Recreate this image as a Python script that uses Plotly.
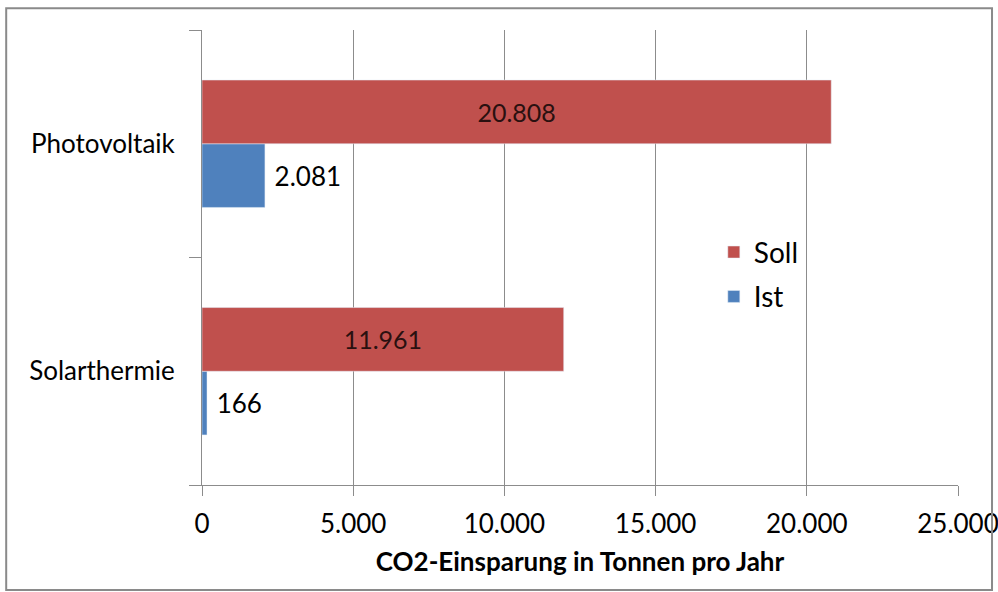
import plotly.graph_objects as go

# Data
categories = ["Solarthermie", "Photovoltaik"]
soll = [11961, 20808]
ist = [166, 2081]
x_ticks = [0, 5000, 10000, 15000, 20000, 25000]

red = "#C0504D"
blue = "#4F81BD"
grey = "#8C8C8C"
font_family = "Lato, 'Open Sans', sans-serif"

fig = go.Figure()

# Ist first so that it sits below Soll inside each group
fig.add_trace(go.Bar(
    y=categories, x=ist, name="Ist", orientation="h",
    legendgroup="ist", legendrank=2,
    marker=dict(color=blue),
    texttemplate="\u00a0%{x:,}", textposition="outside",
    textfont=dict(size=26, color="#000000"),
    cliponaxis=False,
))
fig.add_trace(go.Bar(
    y=categories, x=soll, name="Soll", orientation="h",
    legendgroup="soll", legendrank=1,
    marker=dict(color=red),
    texttemplate="%{x:,}", textposition="inside", insidetextanchor="middle",
    textfont=dict(size=25, color="#2a1010"),
))

fig.update_layout(
    width=998, height=592,
    paper_bgcolor="white", plot_bgcolor="white",
    font=dict(family=font_family, size=26, color="#000000"),
    separators=",.",
    barmode="group", bargap=0.44, bargroupgap=0,
    margin=dict(l=202, r=40, t=30, b=107, autoexpand=False),
    legend=dict(
        traceorder="grouped",
        x=0.677, y=0.463, xanchor="left", yanchor="middle",
        font=dict(size=28), bgcolor="rgba(0,0,0,0)",
        itemwidth=30, tracegroupgap=5,
    ),
    xaxis=dict(
        range=[0, 25000], tickvals=x_ticks, tickformat=",d",
        showgrid=True, gridcolor=grey, gridwidth=1,
        showline=True, linecolor=grey, linewidth=1,
        ticks="outside", ticklen=10, tickcolor=grey,
        zeroline=False, automargin=False, ticklabeloverflow="allow",
        ticklabelstandoff=6,
        title=dict(text="<b>CO2-Einsparung in Tonnen pro Jahr</b>",
                   font=dict(size=26), standoff=14),
        tickfont=dict(size=26),
    ),
    yaxis=dict(
        showgrid=False, showline=True, linecolor=grey, linewidth=1,
        ticks="outside", tickson="boundaries", ticklen=12, tickcolor=grey,
        tickfont=dict(size=26), ticklabelstandoff=21, automargin=False,
    ),
    shapes=[dict(
        type="rect", xref="paper", yref="paper",
        x0=-0.259, x1=1.045, y0=-0.231, y1=1.048,
        line=dict(color="#8a8a8a", width=2),
    )],
)

fig.write_html("out.html", config={"displayModeBar": False},
               post_script="document.body.style.margin='0';")
